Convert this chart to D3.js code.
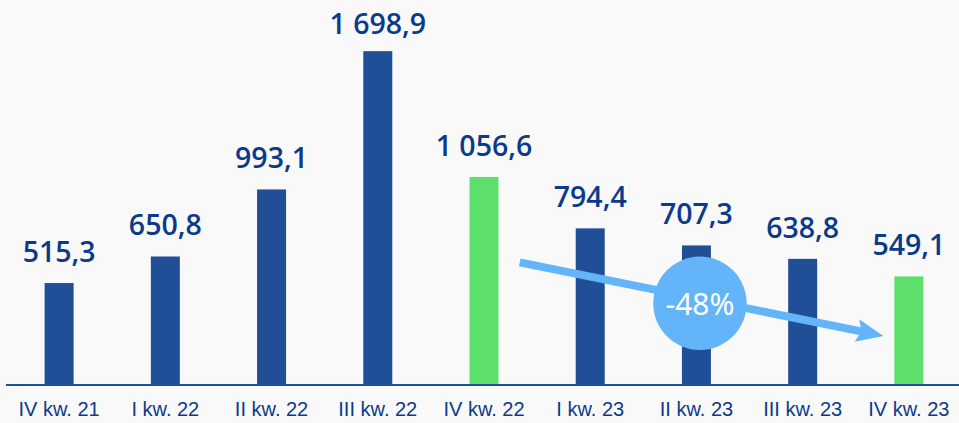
<!DOCTYPE html>
<html>
<head>
<meta charset="utf-8">
<script src="https://cdn.jsdelivr.net/npm/d3@7/dist/d3.min.js"></script>
<style>
  html, body { margin: 0; padding: 0; background: #f9f9f9; }
  svg { display: block; }
</style>
</head>
<body>
<svg id="chart" width="959" height="423"></svg>
<script>
const categories = ["IV kw. 21", "I kw. 22", "II kw. 22", "III kw. 22", "IV kw. 22", "I kw. 23", "II kw. 23", "III kw. 23", "IV kw. 23"];
const values = [515.3, 650.8, 993.1, 1698.9, 1056.6, 794.4, 707.3, 638.8, 549.1];
const labels = ["515,3", "650,8", "993,1", "1 698,9", "1 056,6", "794,4", "707,3", "638,8", "549,1"];
const highlighted = ["IV kw. 22", "IV kw. 23"];
const changeLabel = "-48%";
const changeFrom = "I kw. 23";
const changeTo = "IV kw. 23";

const W = 959, H = 423;
const svg = d3.select("#chart");
svg.append("rect").attr("width", W).attr("height", H).attr("fill", "#f9f9f9");

const x = d3.scaleBand().domain(categories).range([6, 962]).paddingInner(0.727).paddingOuter(0.3635);
const y = d3.scaleLinear().domain([0, 1960]).range([384, 0]);

const navy = "#214f97", green = "#5ddf6b", text = "#0b3a8b", light = "#63b4f8";

// bars
svg.selectAll("rect.bar").data(categories).enter().append("rect")
  .attr("class", "bar")
  .attr("x", d => x(d))
  .attr("width", x.bandwidth())
  .attr("y", (d, i) => y(values[i]))
  .attr("height", (d, i) => y(0) - y(values[i]))
  .attr("fill", d => highlighted.includes(d) ? green : navy);

// value labels
svg.selectAll("text.val").data(categories).enter().append("text")
  .attr("class", "val")
  .attr("x", d => x(d) + x.bandwidth() / 2)
  .attr("y", (d, i) => Math.max(34, y(values[i]) - 21))
  .attr("text-anchor", "middle")
  .attr("font-family", "'Open Sans', sans-serif")
  .attr("font-weight", 600)
  .attr("font-size", 28.5)
  .attr("fill", text)
  .text((d, i) => labels[i]);

// axis
const axis = d3.axisBottom(x).tickSize(0).tickPadding(18);
const gAxis = svg.append("g").attr("transform", `translate(0,${y(0)})`).call(axis);
gAxis.select(".domain").remove();
gAxis.append("line").attr("x1", 6).attr("x2", W).attr("y1", 1).attr("y2", 1)
  .attr("stroke", "#1c4f9c").attr("stroke-width", 2.2);
gAxis.selectAll(".tick text")
  .attr("font-family", "'Liberation Sans', Arial, sans-serif")
  .attr("font-size", 20)
  .attr("fill", text)
  .attr("dy", "0.71em")
  .attr("y", 18);

// arrow
const i0 = categories.indexOf(changeFrom), i1 = categories.indexOf(changeTo);
const x0 = x(changeFrom) - 56, y0 = y(values[i0]) + 34;
const x1 = x(changeTo) - 11, y1 = y(values[i1]) + 59.5;
const dx = x1 - x0, dy = y1 - y0, len = Math.hypot(dx, dy);
const ux = dx / len, uy = dy / len, nx = -uy, ny = ux;
const headLen = 24, headW = 11.5, shaftW = 4;
const bx = x1 - ux * headLen, by = y1 - uy * headLen;
const pts = [
  [x0 + nx * shaftW, y0 + ny * shaftW],
  [bx + nx * shaftW, by + ny * shaftW],
  [bx + nx * headW - ux * 3, by + ny * headW - uy * 3],
  [x1, y1],
  [bx - nx * headW - ux * 3, by - ny * headW - uy * 3],
  [bx - nx * shaftW, by - ny * shaftW],
  [x0 - nx * shaftW, y0 - ny * shaftW]
];
svg.append("path").attr("d", d3.line()(pts) + "Z").attr("fill", light);

// circle
const cx = x(categories[6]) + x.bandwidth() / 2 + 3.5, cy = 303.3;
svg.append("circle").attr("cx", cx).attr("cy", cy).attr("r", 46.7).attr("fill", light);
svg.append("text").attr("x", cx).attr("y", cy + 12)
  .attr("text-anchor", "middle")
  .attr("font-family", "'Noto Sans', sans-serif")
  .attr("font-size", 30)
  .attr("fill", "#ffffff")
  .text(changeLabel);
</script>
</body>
</html>
